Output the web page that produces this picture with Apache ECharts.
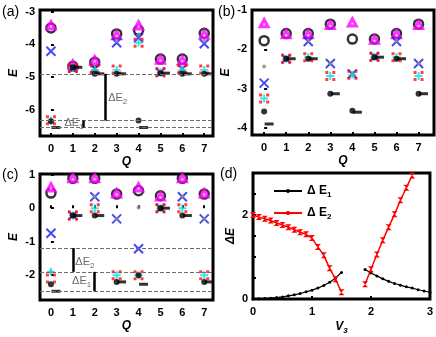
<!DOCTYPE html>
<html>
<head>
<meta charset="utf-8">
<script src="https://cdn.jsdelivr.net/npm/echarts@6/dist/echarts.min.js"></script>
<style>
html, body { margin: 0; padding: 0; background: #fff; }
#chart { width: 436px; height: 337px; }
</style>
</head>
<body>
<div id="chart"></div>
<script>
// momentum sectors on panels a-c
const qValues = [0, 1, 2, 3, 4, 5, 6, 7];

// panel (a)
const aTriangle = [-3.42, -4.62, -4.49, -3.72, -3.42, -4.47, -4.49, -3.7];
const aCircle = [-3.5, -4.67, -4.55, -3.68, -3.57, -4.45, -4.45, -3.66];
const aCross = [-4.21, -4.72, -4.74, -3.95, -3.8, -4.85, -4.75, -3.98];
const aGray = [-6.33, -4.7, -4.78, -3.9, -3.7, -4.85, -4.78, -3.9];
const aRed = [-6.32, -4.72, -4.76, -4.77, -3.95, -4.85, -4.76, -4.77];
const aCyan = [-6.33, -4.72, -4.78, -4.78, -3.95, -4.85, -4.78, -4.78];
const aDot = [-6.35, -4.7, -4.9, -4.9, -6.33, -4.88, -4.9, -4.9];
const aDash = [-6.54, -4.7, -4.9, -4.9, -6.54, -4.88, -4.9, -4.9];
const aGapLevels = [-4.9, -6.33, -6.54];
const aGapBars = [[2.5, -4.9, -6.33], [1.47, -6.33, -6.54]];

// panel (b)
const bTriangle = [-1.34, -1.62, -1.62, -1.38, -1.32, -1.76, -1.62, -1.38];
const bCircle = [-1.78, -1.6, -1.6, -1.36, -1.74, -1.74, -1.6, -1.36];
const bCross = [-2.86, -2.24, -1.8, -2.36, -2.63, -2.19, -1.8, -2.36];
const bGray = [-2.44, -2.22, -1.78, -2.36, -2.63, -2.19, -1.78, -2.36];
const bRed = [-3.25, -2.24, -2.2, -2.68, -2.65, -2.19, -2.2, -2.68];
const bCyan = [-3.25, -2.24, -2.2, -2.68, -2.65, -2.19, -2.2, -2.68];
const bDot = [-3.58, -2.24, -2.24, -3.13, -3.56, -2.2, -2.24, -3.13];
const bDash = [-3.9, -2.24, -2.24, -3.13, -3.6, -2.2, -2.24, -3.13];

// panel (c)
const cTriangle = [0.62, 0.89, 0.89, 0.44, 0.62, 0.35, 0.89, 0.44];
const cCircle = [0.45, 0.89, 0.89, 0.42, 0.52, 0.37, 0.89, 0.42];
const cCross = [-0.75, -0.22, 0.34, -0.32, -1.21, 0.0, 0.34, -0.32];
const cGray = [-1.9, -0.22, 0.34, -0.32, 0.02, 0.0, 0.34, -0.32];
const cRed = [-2.1, -0.22, 0.0, -2.0, -2.0, 0.0, 0.0, -2.0];
const cCyan = [-1.9, -0.22, 0.0, -2.0, -2.0, 0.0, 0.0, -2.0];
const cDot = [-2.27, -0.22, -0.22, -2.2, -2.0, 0.0, -0.22, -2.2];
const cDash = [-2.48, -0.22, -0.22, -2.2, -2.27, 0.0, -0.22, -2.2];
const cGapLevels = [-1.19, -1.9, -2.48];
const cGapBars = [[1, -1.19, -1.9], [2, -1.9, -2.48]];

// panel (d)
const v3Left = [0, 0.1, 0.2, 0.3, 0.4, 0.5, 0.6, 0.7, 0.8, 0.9, 1.0, 1.1, 1.2, 1.3, 1.4, 1.5];
const dE1Left = [0, 0.003, 0.01, 0.02, 0.035, 0.05, 0.075, 0.1, 0.13, 0.17, 0.21, 0.26, 0.32, 0.4, 0.5, 0.63];
const dE2Left = [2.0, 1.95, 1.91, 1.87, 1.81, 1.76, 1.71, 1.65, 1.59, 1.54, 1.45, 1.24, 1.04, 0.73, 0.47, 0.16];
const v3RightE1 = [1.9, 2.0, 2.1, 2.2, 2.3, 2.4, 2.5, 2.6, 2.7, 2.8, 2.9, 3.0];
const dE1Right = [0.7, 0.62, 0.55, 0.48, 0.42, 0.37, 0.33, 0.29, 0.26, 0.22, 0.19, 0.16];
const v3RightE2 = [1.9, 2.0, 2.1, 2.2, 2.3, 2.4, 2.5, 2.6, 2.7];
const dE2Right = [0.35, 0.71, 1.06, 1.4, 1.71, 2.02, 2.35, 2.65, 2.94];

const qTicks = [0, 1, 2, 3, 4, 5, 6, 7];
const aTicks = [-3, -4, -5, -6];
const bTicks = [-1, -2, -3, -4];
const cTicks = [1, 0, -1, -2];
const dXTicks = [0, 1, 2, 3];
const dYTicks = [0, 0.5, 1, 1.5, 2, 2.5];
const dYLabels = [0, 2];

const zip = (xs, ys) => xs.map((x, i) => [x, ys[i]]);

const SYM_CROSS = "path://M0,0L10,10M10,0L0,10";
const SYM_DOTS = "path://M0,0h3v3h-3zM7,0h3v3h-3zM0,7h3v3h-3zM7,7h3v3h-3z";
const SYM_PLUS = "path://M3.8,0h2.4v10h-2.4zM0,3.8h10v2.4h-10z";
const SYM_BOWTIE = "path://M0,0L10,0L0,10L10,10Z";

const sub = { fontSize: 8, verticalAlign: "bottom", lineHeight: 16 };

function scatter(gi, data, extra) {
  return Object.assign(
    {
      type: "scatter",
      xAxisIndex: gi,
      yAxisIndex: gi,
      data: zip(qValues, data),
      silent: true,
    },
    extra
  );
}

function panelSeries(gi, p) {
  return [
    scatter(gi, p.circle, {
      symbol: "circle",
      symbolSize: 9,
      itemStyle: { color: "#fff", borderColor: "#000", borderWidth: 2.5 },
    }),
    scatter(gi, p.triangle, {
      symbol: "triangle",
      symbolSize: [13, 12],
      symbolOffset: [0, -1],
      itemStyle: { color: "#ff00ff" },
    }),
    scatter(gi, p.triangle, {
      symbol: "rect",
      symbolSize: 2,
      symbolOffset: [0, 1],
      itemStyle: { color: "#fff" },
    }),
    scatter(gi, p.cross, {
      symbol: SYM_CROSS,
      symbolSize: 9,
      itemStyle: { color: "none", borderColor: "#1c1cf0", borderWidth: 2 },
    }),
    scatter(gi, p.gray, {
      symbol: "circle",
      symbolSize: 4,
      itemStyle: { color: "#8a8a8a" },
    }),
    scatter(gi, p.red, {
      symbol: SYM_DOTS,
      symbolSize: 10,
      itemStyle: { color: "#ff1010" },
    }),
    scatter(gi, p.cyan, {
      symbol: SYM_PLUS,
      symbolSize: 8,
      itemStyle: { color: "#00dede" },
    }),
    scatter(gi, p.dot, {
      symbol: "circle",
      symbolSize: 6,
      itemStyle: { color: "#000" },
    }),
    scatter(gi, p.dash, {
      symbol: "rect",
      symbolSize: [9, 3],
      symbolOffset: [5, 0],
      itemStyle: { color: "#000" },
    }),
  ];
}

// dashed energy levels + vertical gap bars + gap labels
function gapSeries(gi, levels, bars, notes) {
  const lines = levels.map((v) => ({
    yAxis: v,
    lineStyle: { type: [4, 2], color: "#6e6e6e", width: 1.2 },
  }));
  bars.forEach((b) => {
    lines.push([
      { coord: [b[0], b[1]], lineStyle: { type: "solid", color: "#000", width: 2.5 } },
      { coord: [b[0], b[2]] },
    ]);
  });
  return {
    type: "scatter",
    xAxisIndex: gi,
    yAxisIndex: gi,
    silent: true,
    symbolSize: 0,
    data: notes.map((n) => ({ value: [n[0], n[1]], idx: n[2] })),
    label: {
      show: true,
      position: "inside",
      color: "#444",
      fontSize: 11,
      fontFamily: "Liberation Sans",
      formatter: (p) => "ΔE{s|" + p.data.idx + "}",
      rich: { s: sub },
    },
    markLine: {
      silent: true,
      symbol: ["none", "none"],
      label: { show: false },
      data: lines,
    },
  };
}

const tickFont = { fontSize: 11, fontWeight: "bold", color: "#000", fontFamily: "Liberation Sans" };
const nameFont = { fontSize: 12, fontWeight: "bold", fontStyle: "italic", color: "#000", fontFamily: "Liberation Sans" };

function xAxis(gi, min, max, ticks, name) {
  return {
    gridIndex: gi,
    type: "value",
    min,
    max,
    name,
    nameLocation: "middle",
    nameGap: 20,
    nameTextStyle: Object.assign({ rich: { s: { fontSize: 8, verticalAlign: "bottom", lineHeight: 16, fontStyle: "italic", fontWeight: "bold" } } }, nameFont),
    axisLine: { show: false },
    splitLine: { show: false },
    axisTick: { show: true, inside: true, length: 3, lineStyle: { color: "#000", width: 2 }, customValues: ticks },
    axisLabel: Object.assign({ margin: 7, customValues: ticks }, tickFont),
  };
}

function yAxis(gi, min, max, ticks, labels, name, gap) {
  return {
    gridIndex: gi,
    type: "value",
    min,
    max,
    name,
    nameLocation: "middle",
    nameGap: gap,
    nameTextStyle: nameFont,
    axisLine: { show: false },
    splitLine: { show: false },
    axisTick: { show: true, inside: true, length: 3, lineStyle: { color: "#000", width: 2 }, customValues: ticks },
    axisLabel: Object.assign({ margin: 5, customValues: labels }, tickFont),
  };
}

const gridBox = { show: true, borderColor: "#000", borderWidth: 3, backgroundColor: "#fff" };

const chart = echarts.init(document.getElementById("chart"), null, { renderer: "canvas" });

const legendRich = {
  b: { fontSize: 12, fontWeight: "bold", color: "#000", fontFamily: "Liberation Sans" },
  s: { fontSize: 8, fontWeight: "bold", color: "#000", verticalAlign: "bottom", lineHeight: 16 },
};

const options = {
  animation: false,
  grid: [
    Object.assign({ left: 40, top: 10, width: 173, height: 126 }, gridBox),
    Object.assign({ left: 252, top: 10, width: 182, height: 125 }, gridBox),
    Object.assign({ left: 40, top: 174, width: 173, height: 126 }, gridBox),
    Object.assign({ left: 253, top: 173, width: 177, height: 126 }, gridBox),
  ],
  xAxis: [
    xAxis(0, -0.5, 7.4, qTicks, "Q"),
    xAxis(1, -0.55, 7.7, qTicks, "Q"),
    xAxis(2, -0.5, 7.4, qTicks, "Q"),
    xAxis(3, 0, 3, dXTicks, "V{s|3}"),
  ],
  yAxis: [
    yAxis(0, -6.8, -2.95, aTicks, aTicks, "E", 20),
    yAxis(1, -4.18, -1, bTicks, bTicks, "E", 20),
    yAxis(2, -2.74, 1.02, cTicks, cTicks, "E", 20),
    yAxis(3, 0, 3, dYTicks, dYLabels, "ΔE", 16),
  ],
  legend: {
    data: ["ΔE1", "ΔE2"],
    orient: "vertical",
    left: 268,
    top: 180,
    itemWidth: 28,
    itemHeight: 5,
    itemGap: 8,
    formatter: (name) => "{b|Δ E}{s|" + name.slice(2) + "}",
    textStyle: { rich: legendRich },
  },
  graphic: [
    { type: "text", left: 2, top: 5, style: { text: "(a)", fontSize: 14, fill: "#000", fontFamily: "Liberation Sans" } },
    { type: "text", left: 218, top: 5, style: { text: "(b)", fontSize: 14, fill: "#000", fontFamily: "Liberation Sans" } },
    { type: "text", left: 2, top: 168, style: { text: "(c)", fontSize: 14, fill: "#000", fontFamily: "Liberation Sans" } },
    { type: "text", left: 220, top: 167, style: { text: "(d)", fontSize: 14, fill: "#000", fontFamily: "Liberation Sans" } },
  ],
  series: [].concat(
    panelSeries(0, { triangle: aTriangle, circle: aCircle, cross: aCross, gray: aGray, red: aRed, cyan: aCyan, dot: aDot, dash: aDash }),
    panelSeries(1, { triangle: bTriangle, circle: bCircle, cross: bCross, gray: bGray, red: bRed, cyan: bCyan, dot: bDot, dash: bDash }),
    panelSeries(2, { triangle: cTriangle, circle: cCircle, cross: cCross, gray: cGray, red: cRed, cyan: cCyan, dot: cDot, dash: cDash }),
    [
      gapSeries(0, aGapLevels, aGapBars, [[3.05, -5.63, 2], [1.05, -6.4, 1]]),
      gapSeries(2, cGapLevels, cGapBars, [[1.55, -1.6, 2], [1.4, -2.18, 1]]),
      {
        name: "ΔE1",
        type: "line",
        xAxisIndex: 3,
        yAxisIndex: 3,
        data: zip(v3Left, dE1Left),
        symbol: "circle",
        symbolSize: 3,
        color: "#000",
        lineStyle: { width: 1.2 },
      },
      {
        name: "ΔE1",
        type: "line",
        xAxisIndex: 3,
        yAxisIndex: 3,
        data: zip(v3RightE1, dE1Right),
        symbol: "circle",
        symbolSize: 3,
        color: "#000",
        lineStyle: { width: 1.2 },
      },
      {
        name: "ΔE2",
        type: "line",
        xAxisIndex: 3,
        yAxisIndex: 3,
        data: zip(v3Left, dE2Left),
        symbol: SYM_BOWTIE,
        symbolSize: 6,
        color: "#ff0000",
        lineStyle: { width: 1.5 },
      },
      {
        name: "ΔE2",
        type: "line",
        xAxisIndex: 3,
        yAxisIndex: 3,
        data: zip(v3RightE2, dE2Right),
        symbol: SYM_BOWTIE,
        symbolSize: 6,
        color: "#ff0000",
        lineStyle: { width: 1.5 },
      },
    ]
  ),
};

chart.setOption(options);
window.addEventListener("resize", () => chart.resize());
</script>
</body>
</html>
